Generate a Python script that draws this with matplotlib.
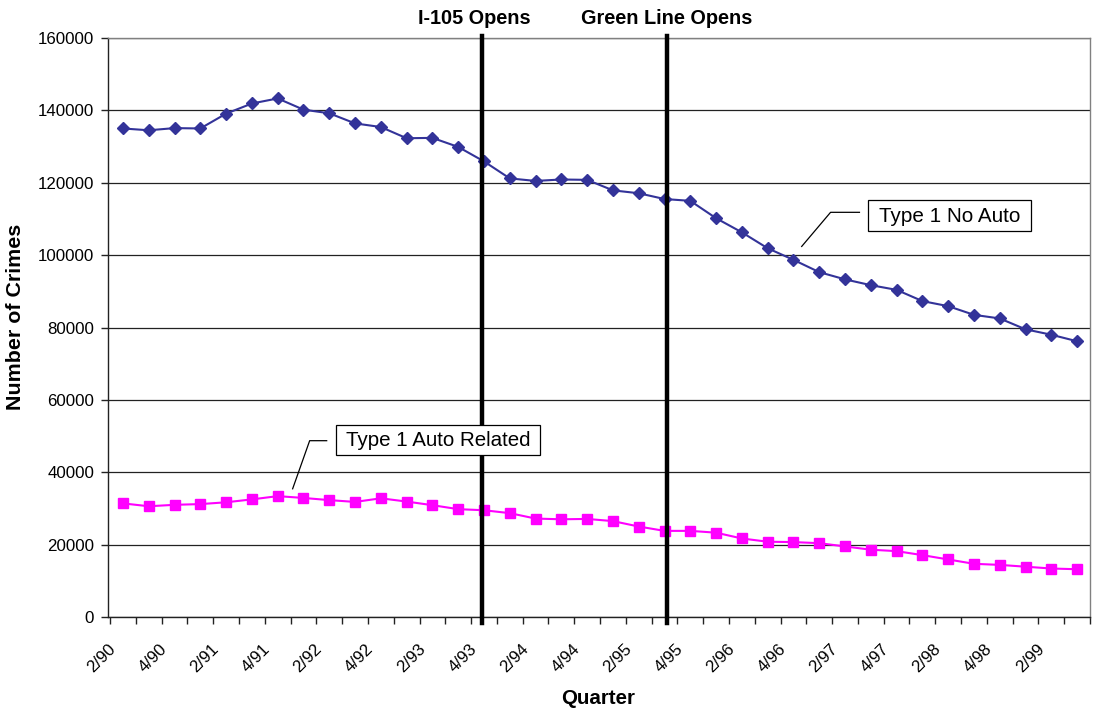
import matplotlib
matplotlib.use("Agg")
import matplotlib.pyplot as plt
import matplotlib.transforms as mtransforms
from matplotlib.patches import Rectangle
import numpy as np

# Quarterly crime counts, Q2 1990 through Q3 1999
quarters = ["2/90", "3/90", "4/90", "1/91", "2/91", "3/91", "4/91", "1/92",
            "2/92", "3/92", "4/92", "1/93", "2/93", "3/93", "4/93", "1/94",
            "2/94", "3/94", "4/94", "1/95", "2/95", "3/95", "4/95", "1/96",
            "2/96", "3/96", "4/96", "1/97", "2/97", "3/97", "4/97", "1/98",
            "2/98", "3/98", "4/98", "1/99", "2/99", "3/99"]

type1_no_auto = [135000, 134500, 135100, 135000, 139100, 141900, 143300, 140200,
                 139200, 136400, 135400, 132300, 132400, 129900, 125900, 121200,
                 120500, 120900, 120800, 117900, 117100, 115500, 115000, 110200,
                 106300, 101900, 98700, 95300, 93300, 91700, 90400, 87300,
                 85900, 83500, 82500, 79500, 78000, 76200]

type1_auto_related = [31400, 30600, 31000, 31200, 31700, 32500, 33400, 32900,
                      32300, 31800, 32800, 31900, 30900, 29800, 29500, 28700,
                      27200, 27000, 27100, 26500, 25000, 23800, 23800, 23300,
                      21700, 20800, 20700, 20400, 19500, 18600, 18200, 17100,
                      15900, 14700, 14400, 13900, 13400, 13200]

# Events marked with vertical lines (position on the quarter axis)
event_names = ["I-105 Opens", "Green Line Opens"]
event_positions = [13.93, 21.08]

plt.rcParams["font.family"] = ["Liberation Sans", "DejaVu Sans"]

fig = plt.figure(figsize=(10.94, 7.12), dpi=100)
ax = fig.add_axes([108 / 1094, 1 - 617 / 712, (1090 - 108) / 1094, (617 - 38) / 712])

x = np.arange(len(quarters))

ax.plot(x, type1_no_auto, color="#333399", lw=1.5, marker="D", markersize=6.0,
        markeredgecolor="#333399", zorder=4, clip_on=False)
ax.plot(x, type1_auto_related, color="#FF00FF", lw=1.5, marker="s", markersize=6.6,
        markeredgecolor="#FF00FF", zorder=4, clip_on=False)

ax.set_xlim(-0.5, len(quarters) - 0.5)
ax.set_ylim(0, 160000)

# Horizontal gridlines
ax.set_yticks(np.arange(0, 160001, 20000))
ax.set_yticklabels([f"{v:d}" for v in range(0, 160001, 20000)])
ax.yaxis.grid(True, color="#222222", lw=0.9)
ax.set_axisbelow(True)

# Category ticks between quarters; rotated labels on every other quarter,
# anchored a little left of the category centre
ax.set_xticks(np.arange(-0.5, len(quarters), 1.0), minor=False)
ax.set_xticklabels([])
ax.set_xticks(x[::2] - 0.58, minor=True)
ax.set_xticklabels(quarters[::2], minor=True, rotation=45, ha="right",
                   va="top", rotation_mode="anchor", fontsize=12.2)
ax.tick_params(axis="x", which="minor", length=0, pad=17.5)
ax.tick_params(axis="x", which="major", length=5, width=1, color="#222222")
ax.tick_params(axis="y", length=5, width=1, color="#222222", labelsize=12.2, pad=5)

for side in ("left", "bottom"):
    ax.spines[side].set_color("#222222")
    ax.spines[side].set_linewidth(1.0)
for side in ("top", "right"):
    ax.spines[side].set_color("#808080")
    ax.spines[side].set_linewidth(1.0)

# Event lines and their headings
blend = mtransforms.blended_transform_factory(ax.transData, ax.transAxes)
for name, pos, dx in zip(event_names, event_positions, [-0.3, 0.0]):
    ax.plot([pos, pos], [-0.011, 1.004], transform=blend, color="black",
            lw=3.2, clip_on=False, zorder=5)
    ax.text(pos + dx, 1.034, name, transform=blend, ha="center", va="center",
            fontsize=14.3, fontweight="bold")

# Series labels in framed boxes with leader lines
ax.add_patch(Rectangle((28.91, 106570), 35.22 - 28.91, 115150 - 106570,
                       facecolor="white", edgecolor="black", lw=0.9, zorder=6))
ax.text(32.07, 110700, "Type 1 No Auto", ha="center", va="center",
        fontsize=14.9, zorder=7)
ax.plot([26.32, 27.44, 28.56], [102400, 111830, 111830], color="black", lw=0.9, zorder=6)

ax.add_patch(Rectangle((8.25, 44840), 16.18 - 8.25, 53150 - 44840,
                       facecolor="white", edgecolor="black", lw=0.9, zorder=6))
ax.text(12.21, 48900, "Type 1 Auto Related", ha="center", va="center",
        fontsize=14.8, zorder=7)
ax.plot([6.58, 7.24, 7.90], [35430, 48720, 48720], color="black", lw=0.9, zorder=6)

# Axis titles
fig.text(16 / 1094, 1 - 317 / 712, "Number of Crimes", rotation=90, ha="center",
         va="center", fontsize=15.4, fontweight="bold")
fig.text(598 / 1094, 1 - 698 / 712, "Quarter", ha="center", va="center",
         fontsize=14.8, fontweight="bold")

fig.savefig("out.png", dpi=100, facecolor="white")
